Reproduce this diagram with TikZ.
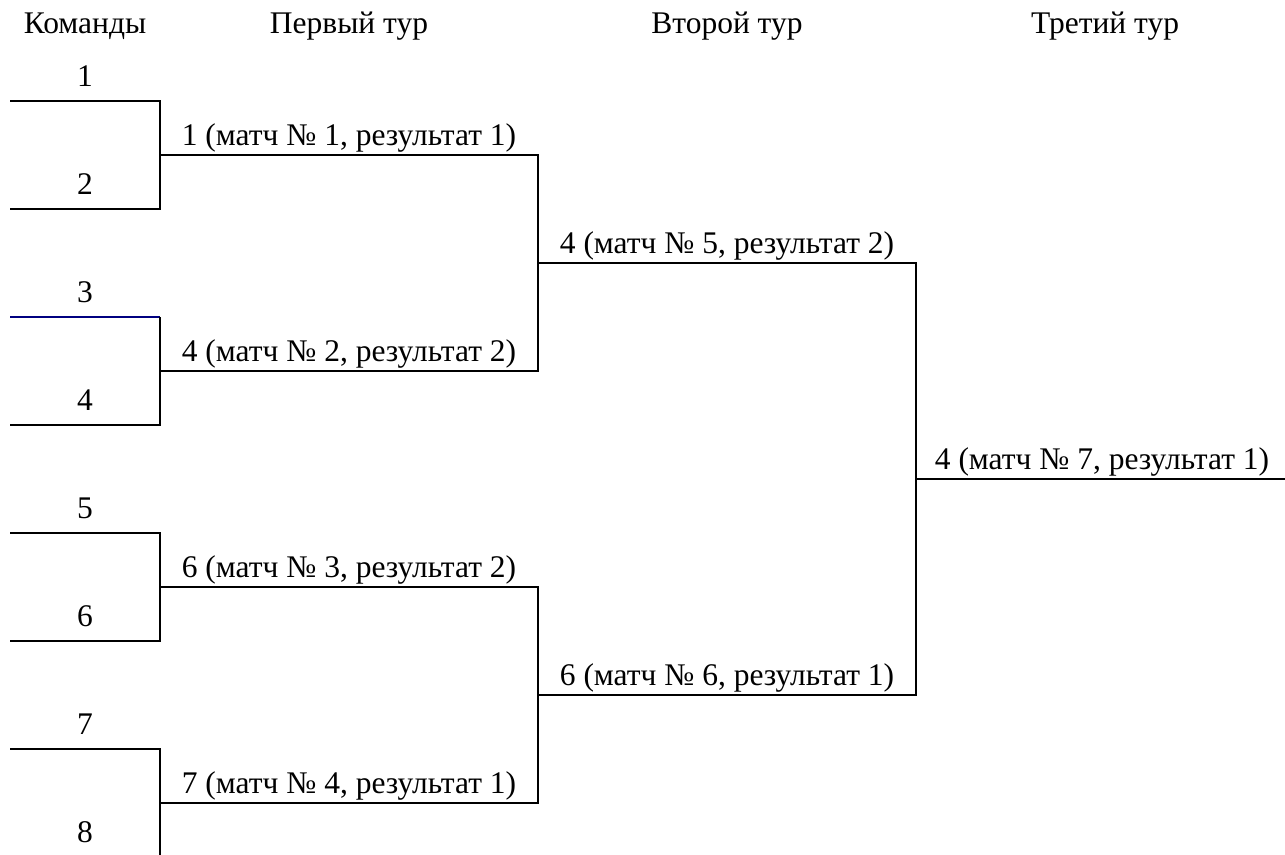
\documentclass[tikz,border=0pt]{standalone}
\usepackage{fontspec}
\setmainfont{Liberation Serif}
\begin{document}
\begin{tikzpicture}[x=1pt,y=-1pt,line width=2.6pt,
  lbl/.style={anchor=base,inner sep=0pt,font=\fontsize{31.5}{36}\selectfont},
  blueline/.style={draw={rgb,255:red,0;green,0;blue,128}}]
\clip (0,0) rectangle (1285,854);
\useasboundingbox (0,0) rectangle (1285,854);
% headers
\node[lbl] (h0) at (85,33) {Команды};
\node[lbl] (h1) at (349,33) {Первый тур};
\node[lbl] (h2) at (727,33) {Второй тур};
\node[lbl] (h3) at (1105,33) {Третий тур};
% teams
\foreach \i in {1,...,8}{
  \pgfmathsetmacro{\yy}{101+108*(\i-1)}
  \coordinate (tL\i) at (10,\yy);
  \coordinate (tR\i) at (160,\yy);
  \node[lbl] (n\i) at (85,\yy-15) {\i};
}
% round 1 coordinates
\foreach \j in {1,...,4}{
  \pgfmathsetmacro{\yy}{155+216*(\j-1)}
  \coordinate (mL\j) at (160,\yy);
  \coordinate (mR\j) at (538,\yy);
}
\coordinate (sL1) at (538,263); \coordinate (sR1) at (916,263);
\coordinate (sL2) at (538,695); \coordinate (sR2) at (916,695);
\coordinate (fL) at (916,479); \coordinate (fR) at (1285,479);
% team brackets
\draw (tL1) -- (tR1) -- (tR2) -- (tL2);
\draw[blueline] (tL3) -- (tR3);
\draw (tR3) -- (tR4) -- (tL4);
\draw (tL5) -- (tR5) -- (tR6) -- (tL6);
\draw (tL7) -- (tR7) -- (tR8) -- (tL8);
% round 1
\draw (mL1) -- (mR1) -- (mR2) -- (mL2);
\draw (mL3) -- (mR3) -- (mR4) -- (mL4);
% round 2
\draw (sL1) -- (sR1) -- (sR2) -- (sL2);
% final
\draw (fL) -- (fR);
% match labels
\node[lbl] (l1) at (349,145) {1 (матч № 1, результат 1)};
\node[lbl] (l2) at (349,361) {4 (матч № 2, результат 2)};
\node[lbl] (l3) at (349,577) {6 (матч № 3, результат 2)};
\node[lbl] (l4) at (349,793) {7 (матч № 4, результат 1)};
\node[lbl] (l5) at (727,253) {4 (матч № 5, результат 2)};
\node[lbl] (l6) at (727,685) {6 (матч № 6, результат 1)};
\node[lbl] (l7) at (1102,469) {4 (матч № 7, результат 1)};
\end{tikzpicture}
\end{document}
